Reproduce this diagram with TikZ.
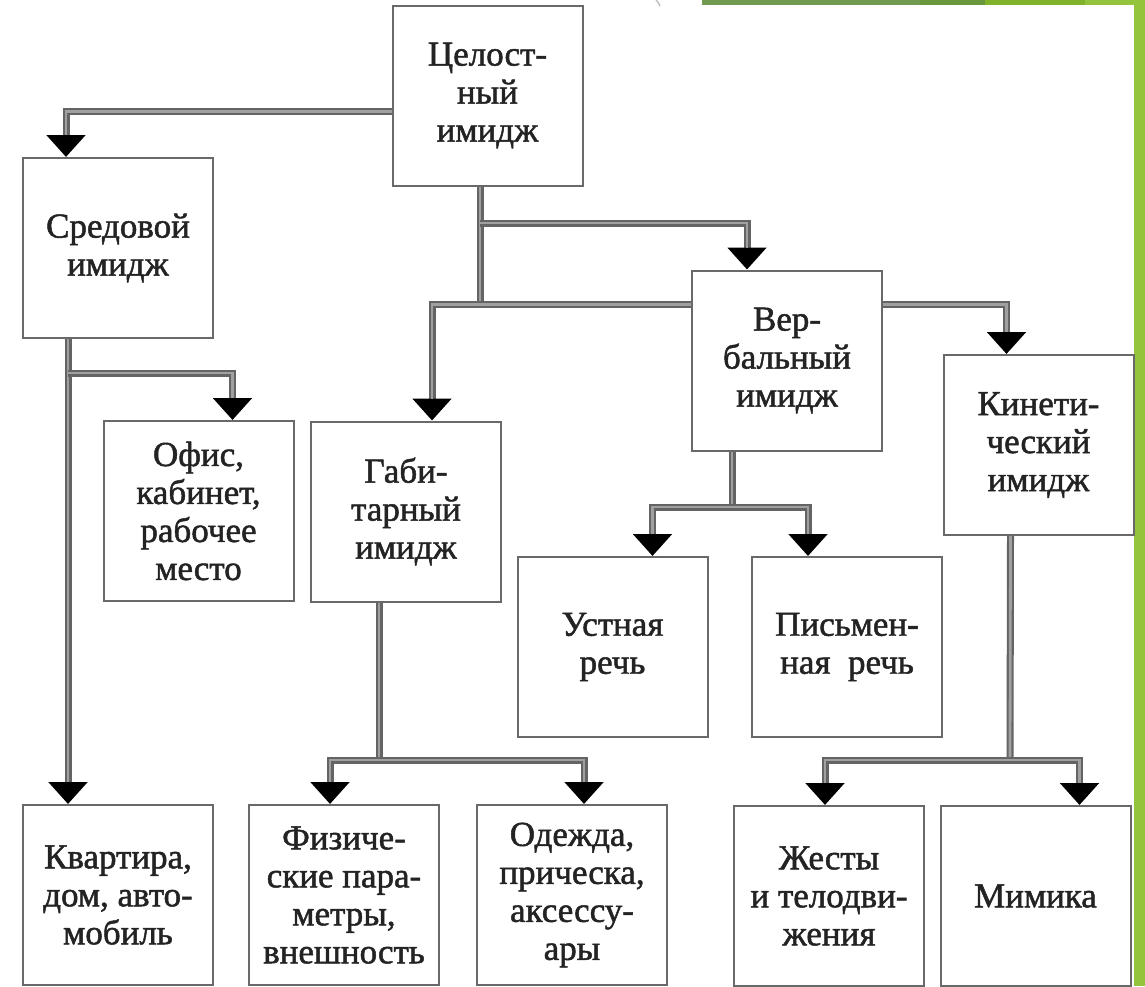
\documentclass[tikz,border=0pt]{standalone}
\usepackage{fontspec}
\setmainfont{Liberation Serif}
\newfontfamily\boxfont{Liberation Serif}[FakeBold=1.4]
\usepackage{tikz}
\usetikzlibrary{positioning,arrows.meta}
\definecolor{linkedge}{RGB}{100,100,100}
\definecolor{linkmid}{RGB}{160,160,160}
\definecolor{boxline}{RGB}{105,105,105}
\definecolor{textgray}{RGB}{35,35,35}
\definecolor{barA}{RGB}{112,155,80}
\definecolor{barB}{RGB}{103,152,60}
\definecolor{barC}{RGB}{128,178,42}
\definecolor{barD}{RGB}{148,196,60}

\begin{document}
\begin{tikzpicture}[x=0.5pt,y=-0.5pt,line join=miter,
  box/.style={draw=boxline,line width=1pt,fill=white,text=textgray,align=center,
    minimum width=95pt,minimum height=90pt,inner sep=0pt,
    font=\boxfont\fontsize{17.5pt}{19pt}\selectfont},
  link/.style={draw=linkedge,line width=3.5pt,
    postaction={draw=linkmid,line width=1.4pt}},
  linkto/.style={draw=linkedge,line width=3.5pt,
    -{Triangle[width=19pt,length=11pt,color=black]},
    postaction={draw=linkmid,line width=1.4pt,-,shorten >=11pt}},
]
%%
\useasboundingbox (0,0) rectangle (1145,986);
\fill[white] (0,0) rectangle (1145,986);
\fill[barA] (702,0) rectangle (920,5);
\fill[barB] (920,0) rectangle (985,5);
\fill[barC] (985,0) rectangle (1085,5);
\fill[barD] (1085,0) rectangle (1145,5);
\fill[barD] (1134,0) rectangle (1145,986);
\draw[gray!55,line width=0.6pt] (656,0) .. controls (658,2) .. (660,6);
%
\node (node_celost) at (487.5,95.5) [box] {Целост-\\ный\\имидж};
\node (node_sred) at (118,248) [box] {Средовой\\имидж};
\node (node_ofis) at (198.5,511) [box] {Офис,\\кабинет,\\рабочее\\место};
\node (node_gab) at (406,511.5) [box] {Габи-\\тарный\\имидж};
\node (node_verb) at (787,360.5) [box] {Вер-\\бальный\\имидж};
\node (node_kinet) at (1038.5,445) [box] {Кинети-\\ческий\\имидж};
\node (node_ustn) at (612.5,647) [box] {Устная\\речь};
\node (node_pism) at (847,647) [box] {Письмен-\\ная\ \ речь};
\node (node_kvart) at (118,895) [box] {Квартира,\\дом, авто-\\мобиль};
\node (node_fiz) at (344,895) [box] {Физиче-\\ские пара-\\метры,\\внешность};
\node (node_odezh) at (572,895) [box] {Одежда,\\прическа,\\аксессу-\\ары};
\node (node_zhest) at (829,896) [box] {Жесты\\и телодви-\\жения};
\node (node_mim) at (1035.5,896) [box] {Мимика};
%
\coordinate (j_main) at (480,223);
\coordinate (j_low) at (480,304);
\coordinate (j_sred) at (68,373);
\coordinate (j_gab) at (379,760);
\coordinate (j_verb) at (732,507);
\coordinate (j_kinet) at (1010,760);
%
\draw[linkto] ([yshift=-8pt]node_celost.west) -| ([xshift=-26pt]node_sred.north);
\draw[link] (node_celost.south -| j_main) -- (j_low);
\draw[linkto] (j_main) -| ([xshift=-20pt]node_verb.north);
\draw[linkto] ([yshift=28pt]node_verb.west) -| ([xshift=13pt]node_gab.north);
\draw[linkto] ([yshift=28pt]node_verb.east) -| ([xshift=-16pt]node_kinet.north);
\draw[linkto] ([xshift=-25pt]node_sred.south) -- ([xshift=-25pt]node_kvart.north);
\draw[linkto] (j_sred) -| ([xshift=17pt]node_ofis.north);
\draw[link] ([xshift=-13.5pt]node_gab.south) -- (j_gab);
\draw[linkto] (j_gab) -| ([xshift=-7pt]node_fiz.north);
\draw[linkto] (j_gab) -| ([xshift=6pt]node_odezh.north);
\draw[link] ([xshift=-27.5pt]node_verb.south) -- (j_verb);
\draw[linkto] (j_verb) -| ([xshift=20pt]node_ustn.north);
\draw[linkto] (j_verb) -| ([xshift=-19.5pt]node_pism.north);
\draw[link] ([xshift=-14pt]node_kinet.south) -- (j_kinet);
\draw[linkto] (j_kinet) -| ([xshift=-2pt]node_zhest.north);
\draw[linkto] (j_kinet) -| ([xshift=22pt]node_mim.north);
%
\end{tikzpicture}
\end{document}
